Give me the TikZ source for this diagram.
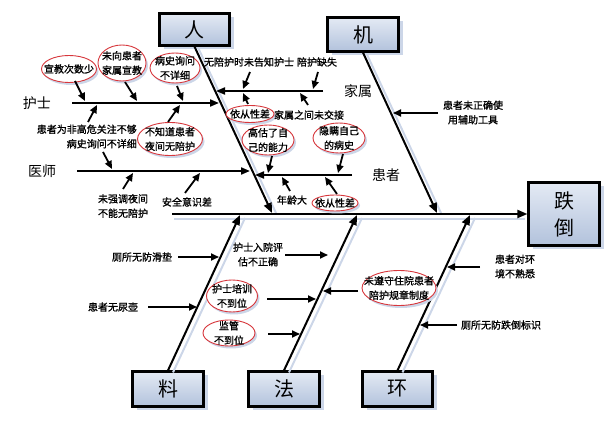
\documentclass[tikz,border=0pt]{standalone}
\usepackage{fontspec}
\newfontfamily\cjk{Noto Sans CJK SC}
\newfontfamily\cjkb{Noto Sans CJK SC}[FakeBold=1.2]
\usetikzlibrary{arrows.meta,shapes.geometric,shadows}
\definecolor{boxtop}{HTML}{E4EAF4}
\definecolor{boxbot}{HTML}{B2C2DC}
\definecolor{shad}{HTML}{CCD6E8}
\definecolor{ellred}{HTML}{D7373C}
\begin{document}
\begin{tikzpicture}[x=1pt,y=-1pt,
  catbox/.style={draw=black,line width=2.2pt,top color=boxtop,bottom color=boxbot,
    font=\cjk\fontsize{20}{27}\selectfont,align=center,inner sep=0pt,
    drop shadow={shadow xshift=4pt,shadow yshift=-4pt,fill=shad,opacity=1}},
  bonearr/.style={line width=2pt,black,-{Triangle[length=10pt,width=8pt]}},
  shline/.style={line width=2pt,shad},
  sub/.style={line width=2pt,black,-{Triangle[length=9pt,width=7pt]}},
  arr/.style={line width=1.8pt,black,-{Triangle[length=8pt,width=7pt]}},
  lab/.style={font=\cjk\fontsize{14}{16}\selectfont,inner sep=0pt},
  sm/.style={font=\cjkb\fontsize{10}{14.5}\selectfont,align=center,inner sep=0pt},
  ell/.style={ellipse,draw=ellred,line width=0.9pt,fill=white,inner sep=-10pt,
    font=\cjkb\fontsize{10}{14.5}\selectfont,align=center,
    drop shadow={shadow xshift=2pt,shadow yshift=-2.5pt,fill=shad,opacity=1}}
]
\useasboundingbox (0,0) rectangle (616,427);

% category boxes
\node[catbox,minimum width=70pt,minimum height=32pt] (ren) at (194.5,29.5) {人};
\node[catbox,minimum width=71pt,minimum height=34pt] (ji) at (363,34.5) {机};
\node[catbox,minimum width=71pt,minimum height=63pt] (dd) at (564,214) {跌\\倒};
\node[catbox,minimum width=71pt,minimum height=35pt] (liao) at (168,389) {料};
\node[catbox,minimum width=71pt,minimum height=35pt] (fa) at (284,389) {法};
\node[catbox,minimum width=70pt,minimum height=35pt] (huan) at (397.5,389) {环};

% spine and bones
\coordinate (spS) at (172,214);
\coordinate (renE) at (272,213);
\coordinate (jiE) at (437,213);
\coordinate (liaoE) at (240,215);
\coordinate (faE) at (357,215);
\coordinate (huanE) at (470,215);

\draw[shline] ([shift={(2,5)}]spS) -- ([shift={(-2,5)}]dd.west);
\draw[shline] ([shift={(5,2)}]liao.north) -- ([shift={(5,3)}]liaoE);
\draw[shline] ([shift={(5,2)}]fa.north) -- ([shift={(5,3)}]faE);
\draw[shline] ([shift={(5,2)}]huan.north) -- ([shift={(5,3)}]huanE);
\draw[shline] ([shift={(4,2)}]ren.south) -- ([shift={(4,0)}]renE);
\draw[shline] ([shift={(4,2)}]ji.south) -- ([shift={(4,0)}]jiE);

\draw[bonearr] (spS) -- (dd.west);
\draw[bonearr] (ren.south) -- (renE);
\draw[bonearr] (ji.south) -- (jiE);
\draw[bonearr] (liao.north) -- (liaoE);
\draw[bonearr] (fa.north) -- (faE);
\draw[bonearr] (huan.north) -- (huanE);

% sub-branch labels and lines
\node[lab] (hushi) at (37,103) {护士};
\node[lab] (yishi) at (42,171) {医师};
\node[lab] (jiashu) at (358,91) {家属};
\node[lab] (huanzhe) at (386,175) {患者};

\coordinate (hsL) at (72,103);  \coordinate (hsR) at (219,103);
\coordinate (ysL) at (77,171);  \coordinate (ysR) at (250,171);
\coordinate (jsR) at (323,91);  \coordinate (jsL) at (216,91);
\coordinate (hzR) at (352,175); \coordinate (hzL) at (255,175);
\draw[sub] (hsL) -- (hsR);
\draw[sub] (ysL) -- (ysR);
\draw[sub] (jsR) -- (jsL);
\draw[sub] (hzR) -- (hzL);

% cause texts
\node[ell,minimum width=55pt,minimum height=27pt] (e1) at (69,69) {宣教次数少};
\node[ell,minimum width=48pt,minimum height=36pt] (e2) at (122,63) {未向患者\\家属宣教};
\node[ell,minimum width=50pt,minimum height=30pt] (e3) at (175,68) {病史询问\\不详细};
\node[sm,align=right,anchor=east] (t4) at (137,136.5) {患者为非高危关注不够\\病史询问不详细};
\node[ell,minimum width=65pt,minimum height=33pt] (e5) at (170,139) {不知道患者\\夜间无陪护};
\node[sm] (t7) at (123,206) {未强调夜间\\不能无陪护};
\node[sm] (t8) at (187,202) {安全意识差};
\node[sm] (t9) at (249,62) {无陪护时未告知护士};
\node[sm] (t10) at (317,62) {陪护缺失};
\node[ell,minimum width=48pt,minimum height=17pt] (e11) at (250,114) {依从性差};
\node[sm] (t12) at (309,115) {家属之间未交接};
\node[ell,minimum width=52pt,minimum height=30pt] (e13) at (268,140) {高估了自\\己的能力};
\node[ell,minimum width=52pt,minimum height=30pt] (e14) at (339,138) {隐瞒自己\\的病史};
\node[sm] (t15) at (292,200) {年龄大};
\node[ell,minimum width=46pt,minimum height=16pt] (e16) at (335,203) {依从性差};
\node[sm] (t17) at (473,112.5) {患者未正确使\\用辅助工具};
\node[sm] (t18) at (142,257) {厕所无防滑垫};
\node[sm] (t19) at (113,307) {患者无尿壶};
\node[sm] (t20) at (258,254.5) {护士入院评\\估不正确};
\node[ell,minimum width=51pt,minimum height=32pt] (e21) at (232,296) {护士培训\\不到位};
\node[ell,minimum width=52pt,minimum height=26pt] (e22) at (229,333) {监管\\不到位};
\node[ell,minimum width=74pt,minimum height=35pt] (e23) at (399,288) {未遵守住院患者\\陪护规章制度};
\node[sm] (t24) at (515,266.5) {患者对环\\境不熟悉};
\node[sm] (t25) at (501,325) {厕所无防跌倒标识};

% cause arrows
\coordinate (a1) at (75,81);   \coordinate (b1) at (85,101);
\coordinate (a2) at (125,82);  \coordinate (b2) at (137,101);
\coordinate (a3) at (177,86);  \coordinate (b3) at (183,101);
\coordinate (a4) at (88,122);  \coordinate (b4) at (97,105);
\coordinate (a5) at (168,122); \coordinate (b5) at (180,105);
\coordinate (a6) at (103,152); \coordinate (b6) at (112,169);
\coordinate (a7) at (123,189); \coordinate (b7) at (133,173);
\coordinate (a8) at (185,193); \coordinate (b8) at (200,173);
\coordinate (a9) at (250,72);  \coordinate (b9) at (243,89);
\coordinate (a10) at (318,72); \coordinate (b10) at (313,89);
\coordinate (a11) at (248,104);\coordinate (b11) at (243,93);
\coordinate (a12) at (308,105);\coordinate (b12) at (300,93);
\coordinate (a13) at (272,156);\coordinate (b13) at (268,173);
\coordinate (a14) at (343,154);\coordinate (b14) at (338,173);
\coordinate (a15) at (290,191);\coordinate (b15) at (282,177);
\coordinate (a16) at (337,194);\coordinate (b16) at (325,177);
\coordinate (a17) at (438,113);\coordinate (b17) at (393,113);
\coordinate (a18) at (178,257);\coordinate (b18) at (219,257);
\coordinate (a19) at (148,307);\coordinate (b19) at (197,307);
\coordinate (a20) at (285,255);\coordinate (b20) at (328,255);
\coordinate (a21) at (267,299);\coordinate (b21) at (316,299);
\coordinate (a22) at (268,334);\coordinate (b22) at (300,334);
\coordinate (a23) at (358,291);\coordinate (b23) at (323,291);
\coordinate (a24) at (480,267);\coordinate (b24) at (447,267);
\coordinate (a25) at (457,325);\coordinate (b25) at (420,325);
\foreach \i in {1,...,25} {\draw[arr] (a\i) -- (b\i);}
\end{tikzpicture}
\end{document}
